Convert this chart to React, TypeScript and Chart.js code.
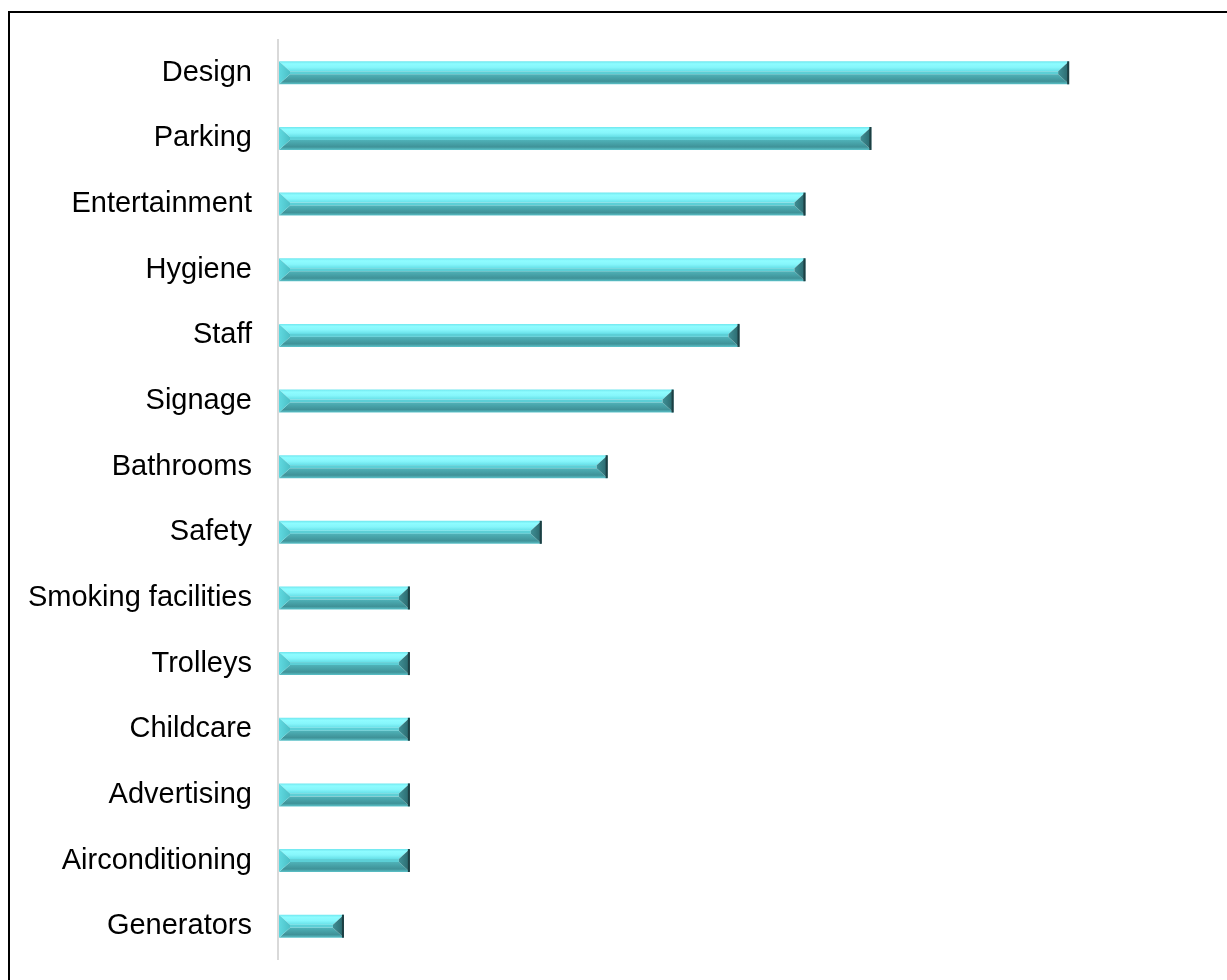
import React, { useEffect, useRef } from "react";
import { Chart, registerables } from "chart.js";

Chart.register(...registerables);

const categories: string[] = [
  "Design",
  "Parking",
  "Entertainment",
  "Hygiene",
  "Staff",
  "Signage",
  "Bathrooms",
  "Safety",
  "Smoking facilities",
  "Trolleys",
  "Childcare",
  "Advertising",
  "Airconditioning",
  "Generators",
];

const counts: number[] = [12, 9, 8, 8, 7, 6, 5, 4, 2, 2, 2, 2, 2, 1];

const X_MAX = 14;

const bevelPlugin = {
  id: "bevelBars",
  afterDatasetsDraw(chart: any) {
    const ctx: CanvasRenderingContext2D = chart.ctx;
    const meta = chart.getDatasetMeta(0);
    meta.data.forEach((el: any) => {
      const p = el.getProps(["x", "y", "base", "height"], true);
      const x0 = Math.min(p.base, p.x) + 1;
      const x1 = Math.max(p.base, p.x);
      const h = p.height;
      const y0 = p.y - h / 2;
      const y1 = p.y + h / 2;
      const bw = Math.min(11, (x1 - x0) / 2);
      const mid0 = p.y - 1.5;
      const mid1 = p.y + 1.5;
      ctx.save();

      // top facet
      const gTop = ctx.createLinearGradient(0, y0, 0, mid0);
      gTop.addColorStop(0, "#6fe6ee");
      gTop.addColorStop(0.25, "#8efcff");
      gTop.addColorStop(0.6, "#86f6fb");
      gTop.addColorStop(1, "#66dfe7");
      ctx.fillStyle = gTop;
      ctx.beginPath();
      ctx.moveTo(x0, y0);
      ctx.lineTo(x1, y0);
      ctx.lineTo(x1 - bw, mid0);
      ctx.lineTo(x0 + bw, mid0);
      ctx.closePath();
      ctx.fill();

      // center band
      ctx.fillStyle = "#5ccfd6";
      ctx.fillRect(x0 + bw, mid0, x1 - x0 - 2 * bw, mid1 - mid0);

      // bottom facet
      const gBot = ctx.createLinearGradient(0, mid1, 0, y1);
      gBot.addColorStop(0, "#4fb2b8");
      gBot.addColorStop(0.7, "#3f9298");
      gBot.addColorStop(1, "#5cc3ca");
      ctx.fillStyle = gBot;
      ctx.beginPath();
      ctx.moveTo(x0 + bw, mid1);
      ctx.lineTo(x1 - bw, mid1);
      ctx.lineTo(x1, y1);
      ctx.lineTo(x0, y1);
      ctx.closePath();
      ctx.fill();

      // left facet
      const gL = ctx.createLinearGradient(x0, 0, x0 + bw, 0);
      gL.addColorStop(0, "#5fd9e0");
      gL.addColorStop(1, "#4cbfc6");
      ctx.fillStyle = gL;
      ctx.beginPath();
      ctx.moveTo(x0, y0);
      ctx.lineTo(x0 + bw, mid0);
      ctx.lineTo(x0 + bw, mid1);
      ctx.lineTo(x0, y1);
      ctx.closePath();
      ctx.fill();

      // right facet
      const gR = ctx.createLinearGradient(x1 - bw, 0, x1, 0);
      gR.addColorStop(0, "#3e8f95");
      gR.addColorStop(1, "#2a666b");
      ctx.fillStyle = gR;
      ctx.beginPath();
      ctx.moveTo(x1, y0);
      ctx.lineTo(x1 - bw, mid0);
      ctx.lineTo(x1 - bw, mid1);
      ctx.lineTo(x1, y1);
      ctx.closePath();
      ctx.fill();

      // dark right edge
      ctx.strokeStyle = "#1d3f43";
      ctx.lineWidth = 2;
      ctx.beginPath();
      ctx.moveTo(x1 - 1, y0);
      ctx.lineTo(x1 - 1, y1);
      ctx.stroke();

      ctx.restore();
    });
  },
};

export default function App() {
  const canvasRef = useRef<HTMLCanvasElement | null>(null);

  useEffect(() => {
    if (!canvasRef.current) return;
    const chart = new Chart(canvasRef.current, {
      type: "bar",
      data: {
        labels: categories,
        datasets: [
          {
            label: "Count",
            data: counts,
            backgroundColor: "rgba(0,0,0,0)",
            borderWidth: 0,
            barPercentage: 0.35,
            categoryPercentage: 1,
          },
        ],
      },
      options: {
        indexAxis: "y",
        animation: false,
        responsive: false,
        maintainAspectRatio: false,
        layout: { padding: { left: 0, top: 40, bottom: 21, right: 26 } },
        plugins: {
          legend: { display: false },
          tooltip: { enabled: false },
        },
        scales: {
          x: {
            display: false,
            min: 0,
            max: X_MAX,
          },
          y: {
            grid: { display: false, drawTicks: false },
            border: { display: true, color: "#d9d9d9", width: 2 },
            ticks: {
              color: "#000000",
              padding: 26,
              font: { family: "'Liberation Sans', Arial, sans-serif", size: 29 },
            },
            afterFit: (scale: any) => {
              scale.width = 278;
              scale.paddingTop = 0;
              scale.paddingBottom = 0;
            },
          },
        },
      },
      plugins: [bevelPlugin],
    });
    return () => chart.destroy();
  }, []);

  return (
    <div style={{ position: "fixed", left: 0, top: 0, width: 1227, height: 980, overflow: "hidden", background: "#ffffff" }}>
      <div
        style={{
          position: "absolute",
          left: 8,
          top: 11,
          width: 1300,
          height: 1100,
          border: "2px solid #000000",
          boxSizing: "border-box",
        }}
      />
      <canvas
        ref={canvasRef}
        width={1227}
        height={980}
        style={{ position: "absolute", left: 0, top: 0, width: 1227, height: 980 }}
      />
    </div>
  );
}
